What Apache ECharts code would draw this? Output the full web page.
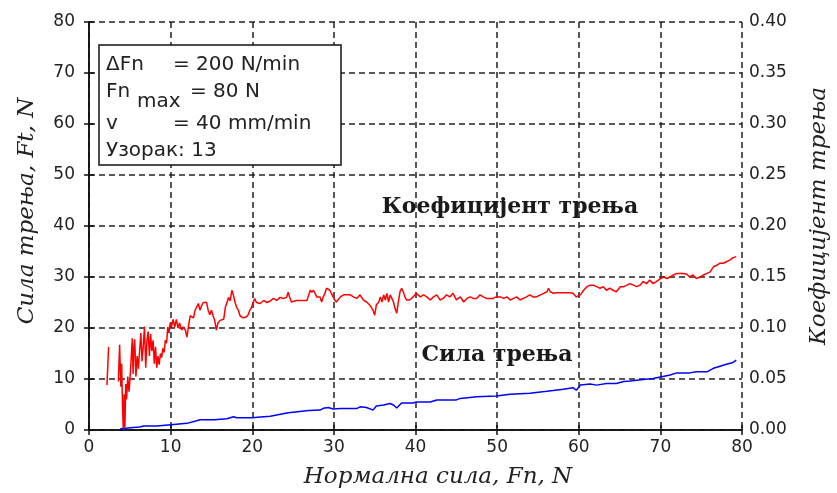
<!DOCTYPE html>
<html>
<head>
<meta charset="utf-8">
<script src="https://cdn.jsdelivr.net/npm/echarts@6/dist/echarts.min.js"></script>
<style>
  html, body { margin: 0; padding: 0; background: #fff; }
  #chart { width: 837px; height: 493px; }
</style>
</head>
<body>
<div id="chart"></div>
<script>
// x ticks / axis ranges
var xTicks = [0, 10, 20, 30, 40, 50, 60, 70, 80];
var forceTicks = [0, 10, 20, 30, 40, 50, 60, 70, 80];
var coefTicks = [0.00, 0.05, 0.10, 0.15, 0.20, 0.25, 0.30, 0.35, 0.40];

// Коефицијент трења  [Fn, mu]
var coefData = [
  [2.2,0.044],[2.3,0.0625],[2.4,0.0815],[3.0,null],
  [3.6,0.0475],[3.75,0.0835],[3.9,0.0425],[4.0,0.065],[4.1,0.025],[4.2,0],[4.3,0.035],[4.4,0.0025],
  [4.5,0.045],[4.6,0.03],[4.75,0.0525],[4.9,0.0375],[5.0,0.0475],[5.15,0.0675],[5.3,0.09],[5.4,0.055],
  [5.5,0.08],[5.6,0.089],[5.75,0.0525],[5.9,0.0725],[6.05,0.06],[6.2,0.0775],[6.35,0.095],[6.5,0.0675],
  [6.65,0.0825],[6.8,0.1015],[6.95,0.061],[7.1,0.088],[7.25,0.0965],[7.4,0.0725],[7.55,0.094],[7.7,0.0775],
  [7.85,0.088],[8.0,0.065],[8.15,0.0815],[8.3,0.061],[8.45,0.0725],[8.6,0.064],[8.75,0.075],[8.9,0.071],
  [9.05,0.08],[9.2,0.076],[9.35,0.088],[9.5,0.085],[9.65,0.101],[9.8,0.095],[9.95,0.105],[10.1,0.101],
  [10.3,0.1085],[10.5,0.101],[10.7,0.1085],[10.9,0.1],[11.1,0.105],[11.35,0.098],[11.6,0.101],[11.8,0.098],
  [12.0,0.091],[12.2,0.1025],[12.4,0.112],[12.6,0.113],[12.8,0.11],[13.0,0.1175],[13.2,0.119],[13.4,0.124],
  [13.6,0.1175],[13.8,0.122],[14.0,0.125],[14.2,0.124],[14.4,0.125],[14.6,0.1175],[14.8,0.113],[15.0,0.1175],
  [15.2,0.112],[15.4,0.1075],[15.6,0.098],[15.8,0.105],[16.05,0.1075],[16.5,0.1085],[16.7,0.12],[16.9,0.125],
  [17.1,0.13],[17.3,0.1265],[17.5,0.137],[17.7,0.132],[17.9,0.125],[18.1,0.12],[18.3,0.1175],[18.5,0.112],
  [18.9,0.11],[19.3,0.111],[19.5,0.113],[19.7,0.1175],[19.9,0.12],[20.1,0.125],[20.3,0.129],[20.5,0.125],
  [20.95,0.124],[21.4,0.127],[21.8,0.125],[22.2,0.1265],[22.4,0.1275],[22.6,0.129],[23.0,0.127],[23.4,0.13],
  [23.8,0.129],[24.2,0.13],[24.4,0.135],[24.6,0.13],[24.8,0.1255],[25.4,0.127],[26.3,0.127],[26.7,0.127],
  [26.9,0.132],[27.1,0.137],[27.3,0.135],[27.5,0.137],[27.7,0.134],[27.9,0.1305],[28.3,0.1305],[28.5,0.1255],
  [28.7,0.1305],[28.9,0.134],[29.1,0.139],[29.3,0.14],[29.5,0.137],[29.7,0.134],[29.9,0.1305],[30.1,0.1275],
  [30.3,0.1255],[30.8,0.1305],[31.2,0.1325],[31.6,0.1325],[32.0,0.1325],[32.4,0.1305],[32.8,0.129],[33.2,0.1325],
  [33.6,0.1275],[34.0,0.1255],[34.4,0.1225],[34.8,0.1175],[35.0,0.1125],[35.2,0.1225],[35.5,0.1255],[35.7,0.1305],
  [35.9,0.1255],[36.1,0.1325],[36.3,0.1275],[36.5,0.134],[36.7,0.1255],[36.9,0.1325],[37.1,0.129],[37.3,0.1255],
  [37.5,0.119],[37.7,0.1145],[37.9,0.1255],[38.1,0.1355],[38.3,0.139],[38.5,0.1355],[38.7,0.1305],[38.9,0.1275],
  [39.1,0.129],[39.3,0.1275],[39.7,0.1305],[40.1,0.134],[40.6,0.1305],[41.0,0.1325],[41.4,0.1305],[41.8,0.1275],
  [42.2,0.1305],[42.6,0.1325],[43.0,0.1275],[43.4,0.129],[43.8,0.1325],[44.2,0.1305],[44.6,0.134],[45.0,0.1275],
  [45.5,0.1305],[45.9,0.1255],[46.3,0.129],[46.7,0.1305],[47.1,0.129],[47.5,0.129],[47.9,0.1325],[48.1,0.134],
  [48.3,0.1305],[48.7,0.129],[49.1,0.129],[49.5,0.129],[49.9,0.1305],[50.4,0.1305],[50.8,0.129],[51.2,0.1305],
  [51.6,0.1275],[52.0,0.129],[52.4,0.1305],[52.8,0.1275],[53.2,0.129],[53.6,0.1305],[54.0,0.1325],[54.4,0.1305],
  [54.8,0.1305],[55.3,0.1325],[55.7,0.134],[56.1,0.1355],[56.3,0.139],[56.5,0.1355],[56.9,0.134],[57.3,0.1345],
  [57.7,0.1345],[58.1,0.1345],[58.5,0.1345],[58.9,0.1345],[59.3,0.134],[59.7,0.1305],[59.9,0.129],[60.2,0.1325],
  [60.6,0.137],[61.0,0.1405],[61.4,0.142],[61.8,0.142],[62.2,0.1405],[62.6,0.139],[63.0,0.1405],[63.4,0.137],
  [63.8,0.139],[64.2,0.137],[64.6,0.1355],[65.1,0.1405],[65.5,0.1405],[65.9,0.142],[66.3,0.1435],[66.7,0.142],
  [67.1,0.1405],[67.5,0.142],[67.9,0.1455],[68.3,0.1435],[68.7,0.147],[68.9,0.1485],[69.1,0.1435],[69.5,0.1455],
  [70.0,0.1485],[70.4,0.15],[70.8,0.1485],[71.2,0.15],[71.6,0.152],[72.0,0.1535],[72.4,0.1535],[72.8,0.1535],
  [73.2,0.153],[73.6,0.15],[74.0,0.152],[74.4,0.1485],[74.9,0.15],[75.3,0.152],[75.7,0.1535],[76.1,0.155],
  [76.5,0.16],[76.9,0.1615],[77.3,0.1635],[77.7,0.1635],[78.1,0.165],[78.5,0.1665],[78.9,0.169],[79.3,0.17]
];

// Сила трења  [Fn, Ft]
var forceData = [
  [2.2,0.3],[3.0,null],[3.8,0.2],[4.2,0.3],[5.4,0.5],[6.2,0.6],[6.7,0.8],[8.3,0.8],[9.7,1.0],[9.9,1.2],
  [12.0,1.3],[12.2,1.6],[13.2,1.8],[13.6,2.0],[15.4,2.0],[15.6,1.8],[16.9,2.2],[17.7,2.6],[18.1,2.4],
  [19.9,2.4],[20.1,2.6],[22.2,2.7],[22.4,2.9],[24.4,3.4],[24.6,3.6],[25.0,3.5],[26.9,3.8],[27.1,3.9],
  [28.3,3.9],[28.7,4.25],[29.3,4.4],[29.9,4.1],[30.8,4.2],[32.8,4.2],[33.2,4.55],[34.0,4.4],[34.8,3.9],
  [35.2,4.7],[36.1,4.9],[36.9,5.2],[37.3,4.9],[37.7,4.3],[38.3,5.3],[39.7,5.3],[40.1,5.5],[41.8,5.5],
  [42.6,5.9],[45.0,5.9],[45.5,6.2],[47.5,6.5],[49.9,6.65],[51.6,7.0],[54.0,7.2],[56.1,7.6],[58.1,8.0],
  [59.3,8.3],[59.7,7.8],[60.2,8.8],[61.4,9.0],[62.2,8.8],[63.4,9.1],[64.6,9.1],[65.5,9.5],[66.3,9.6],
  [67.9,9.9],[69.1,10.1],[70.0,10.4],[71.2,10.8],[72.0,11.2],[73.6,11.2],[74.4,11.4],[75.7,11.4],
  [76.5,12.1],[77.3,12.5],[78.1,12.9],[78.9,13.25],[79.3,13.7]
];

var infoLines = ['ΔFn', 'Fn', 'v', 'Узорак: 13'];

var myChart = echarts.init(document.getElementById('chart'));

var labelFont = { color: '#222', fontSize: 17, fontFamily: 'DejaVu Sans, sans-serif' };
var nameStyle = { fill: '#222', font: 'italic 23px DejaVu Serif', align: 'center', verticalAlign: 'middle' };
var infoFont = '20px DejaVu Sans';
var frameLine = { show: true, lineStyle: { color: '#111', width: 1.5 } };
var innerTick = { show: true, inside: true, length: 5, lineStyle: { color: '#111', width: 1.5 } };
var dashed = { show: true, lineStyle: { color: '#222', type: [6, 4], width: 1.5 } };

var option = {
  animation: false,
  backgroundColor: '#fff',
  grid: { left: 89, right: 95, top: 22, bottom: 63 },
  xAxis: [{
    type: 'value', min: xTicks[0], max: xTicks[xTicks.length - 1], interval: 10,
    axisLine: frameLine, axisTick: innerTick, splitLine: dashed,
    axisLabel: Object.assign({ margin: 9 }, labelFont)
  }, {
    type: 'value', position: 'top', min: 0, max: 80, interval: 10,
    axisLine: frameLine, axisTick: innerTick, splitLine: { show: false },
    axisLabel: { show: false }
  }],
  yAxis: [{
    type: 'value', min: forceTicks[0], max: forceTicks[forceTicks.length - 1], interval: 10,
    axisLine: frameLine, axisTick: innerTick, splitLine: dashed,
    axisLabel: Object.assign({ margin: 14 }, labelFont)
  }, {
    type: 'value', position: 'right', min: coefTicks[0], max: coefTicks[coefTicks.length - 1], interval: 0.05,
    axisLine: frameLine, axisTick: innerTick, splitLine: { show: false },
    axisLabel: Object.assign({ margin: 7, formatter: function (v) { return v.toFixed(2); } }, labelFont)
  }],
  graphic: [
    // axis titles
    { type: 'text', x: 438, y: 477, z: 101, style: Object.assign({ text: 'Нормална сила, Fn, N' }, nameStyle) },
    { type: 'text', x: 27, y: 211, rotation: Math.PI / 2, z: 101, style: Object.assign({ text: 'Сила трења, Ft, N' }, nameStyle) },
    { type: 'text', x: 819, y: 216, rotation: Math.PI / 2, z: 101, style: Object.assign({ text: 'Коефицијент трења' }, nameStyle) },
    // info box
    { type: 'rect', shape: { x: 99, y: 45, width: 242, height: 120 },
      style: { fill: '#fff', stroke: '#111', lineWidth: 1.5 }, z: 100 },
    { type: 'text', x: 106, y: 55, z: 101, style: { text: infoLines[0], fill: '#222', font: infoFont } },
    { type: 'text', x: 173, y: 55, z: 101, style: { text: '= 200 N/min', fill: '#222', font: infoFont } },
    { type: 'text', x: 106, y: 82, z: 101, style: { text: infoLines[1], fill: '#222', font: infoFont } },
    { type: 'text', x: 137, y: 92, z: 101, style: { text: 'max', fill: '#222', font: infoFont } },
    { type: 'text', x: 190, y: 82, z: 101, style: { text: '= 80 N', fill: '#222', font: infoFont } },
    { type: 'text', x: 106, y: 114, z: 101, style: { text: infoLines[2], fill: '#222', font: infoFont } },
    { type: 'text', x: 173, y: 114, z: 101, style: { text: '= 40 mm/min', fill: '#222', font: infoFont } },
    { type: 'text', x: 106, y: 141, z: 101, style: { text: infoLines[3], fill: '#222', font: infoFont } },
    // series annotations
    { type: 'text', x: 510, y: 207, z: 101,
      style: { text: 'Коефицијент трења', fill: '#1a1a1a', font: 'bold 22px DejaVu Serif', align: 'center', verticalAlign: 'middle' } },
    { type: 'text', x: 497, y: 355, z: 101,
      style: { text: 'Сила трења', fill: '#1a1a1a', font: 'bold 22px DejaVu Serif', align: 'center', verticalAlign: 'middle' } }
  ],
  series: [{
    name: 'Коефицијент трења', type: 'line', xAxisIndex: 0, yAxisIndex: 1,
    data: coefData, showSymbol: false, connectNulls: false,
    lineStyle: { color: '#ff0000', width: 1.5 }, z: 5
  }, {
    name: 'Сила трења', type: 'line', xAxisIndex: 0, yAxisIndex: 0,
    data: forceData, showSymbol: false, connectNulls: false,
    lineStyle: { color: '#0000ff', width: 1.5 }, z: 5
  }]
};
myChart.setOption(option);
window.onresize = myChart.resize;
</script>
</body>
</html>
